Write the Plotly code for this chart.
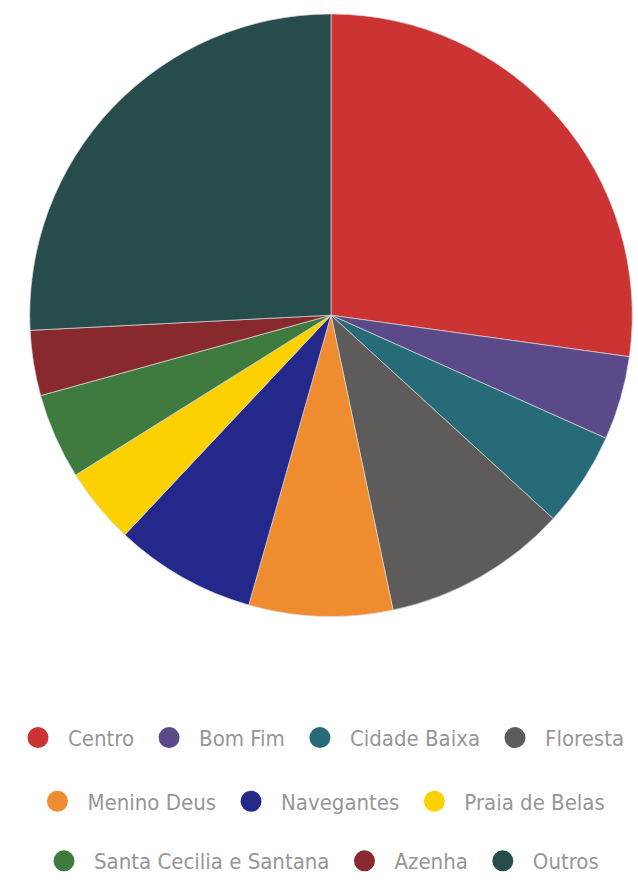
import plotly.graph_objects as go

labels = ["Centro", "Bom Fim", "Cidade Baixa", "Floresta", "Menino Deus",
          "Navegantes", "Praia de Belas", "Santa Cecilia e Santana", "Azenha", "Outros"]
values = [27.2, 4.5, 5.1, 9.9, 7.7, 7.6, 4.1, 4.6, 3.5, 25.8]
colors = ["#cc3434", "#5b4a8a", "#276a78", "#5e5b5b", "#f08c30",
          "#23288a", "#fdd100", "#3f7a3e", "#88292d", "#264c4b"]
legend_rows = [0, 0, 0, 0, 1, 1, 1, 2, 2, 2]

W, H = 638, 882

fig = go.Figure()
fig.add_trace(go.Pie(
    labels=labels, values=values, sort=False, direction="clockwise", rotation=0,
    marker=dict(colors=colors, line=dict(color="#d8d8d8", width=0.7)),
    textinfo="none", hoverinfo="label+percent", showlegend=False,
    domain=dict(x=[28/W, 634/W], y=[1-620/H, 1-14/H]),
))

legend_names = ["legend", "legend2", "legend3"]
for lab, col, row in zip(labels, colors, legend_rows):
    fig.add_trace(go.Scatter(
        x=[None], y=[None], mode="markers", name=lab,
        marker=dict(symbol="circle", size=16, color=col, line=dict(color=col, width=5)),
        legend=legend_names[row], showlegend=True,
    ))

font = dict(family="DejaVu Sans Condensed, Liberation Sans Narrow, Roboto", size=22, color="#969696")
row_y = [1-742/H, 1-806/H, 1-866/H]
layout_legends = {}
for name, y in zip(legend_names, row_y):
    layout_legends[name] = dict(orientation="h", x=0.5, xanchor="center", y=y, yanchor="middle",
                                font=font, bgcolor="rgba(0,0,0,0)", itemwidth=50,
                                itemclick=False, itemdoubleclick=False)

fig.update_layout(
    width=W, height=H, margin=dict(l=0, r=0, t=0, b=0),
    paper_bgcolor="white", plot_bgcolor="white",
    xaxis=dict(visible=False), yaxis=dict(visible=False),
    **layout_legends,
)
fig.write_html("out.html", config={"displayModeBar": False},
               post_script="document.body.style.margin='0';")
